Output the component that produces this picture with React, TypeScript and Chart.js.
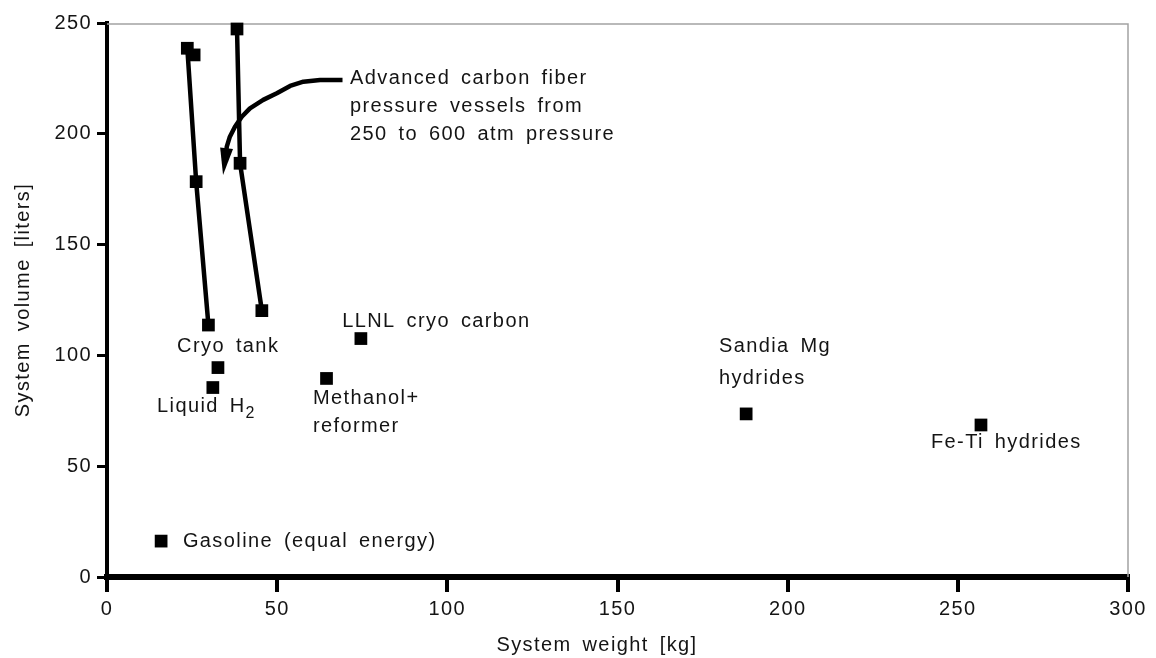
import React, { useEffect, useRef } from "react";
import { Chart, registerables } from "chart.js";

Chart.register(...registerables);

// ---- data ----
const xTicks = [0, 50, 100, 150, 200, 250, 300];
const yTicks = [0, 50, 100, 150, 200, 250];

const cryoTank = [
  { x: 25.6, y: 235.6 },
  { x: 23.6, y: 238.6 },
  { x: 26.2, y: 178.4 },
  { x: 29.8, y: 113.7 },
];
const carbonFiber = [
  { x: 38.2, y: 247.3 },
  { x: 39.1, y: 186.7 },
  { x: 45.5, y: 120.2 },
];
const liquidH2 = [
  { x: 32.6, y: 94.5 },
  { x: 31.1, y: 85.5 },
];
const llnlCryoCarbon = [{ x: 74.6, y: 107.6 }];
const methanolReformer = [{ x: 64.5, y: 89.6 }];
const sandiaMg = [{ x: 187.8, y: 73.6 }];
const feTi = [{ x: 256.8, y: 68.6 }];
const gasoline = [{ x: 15.9, y: 16.2 }];

// annotation arrow path (data coordinates)
const arrowPath = [
  { x: 69.2, y: 224.3 },
  { x: 62.6, y: 224.3 },
  { x: 57.7, y: 223.5 },
  { x: 53.8, y: 221.6 },
  { x: 49.9, y: 218.3 },
  { x: 45.9, y: 215.3 },
  { x: 42.0, y: 211.5 },
  { x: 39.6, y: 207.7 },
  { x: 37.6, y: 203.2 },
  { x: 36.1, y: 198.7 },
  { x: 35.2, y: 194.2 },
];
const arrowTip = { x: 34.1, y: 181.4 };

// text annotations (anchor = left / baseline, data coordinates)
const annotations = [
  { text: "Advanced carbon fiber", x: 71.4, y: 222.5 },
  { text: "pressure vessels from", x: 71.4, y: 209.8 },
  { text: "250 to 600 atm pressure", x: 71.4, y: 197.2 },
  { text: "Cryo tank", x: 20.6, y: 101.5 },
  { text: "LLNL cryo carbon", x: 69.1, y: 112.8 },
  { text: "Methanol+", x: 60.5, y: 78.1 },
  { text: "reformer", x: 60.5, y: 65.4 },
  { text: "Sandia Mg", x: 179.8, y: 101.5 },
  { text: "hydrides", x: 179.8, y: 87.1 },
  { text: "Fe-Ti hydrides", x: 242.1, y: 58.2 },
  { text: "Gasoline (equal energy)", x: 22.3, y: 13.5 },
  { text: "Liquid H", sub: "2", x: 14.7, y: 74.5 },
];

const xTitle = "System weight [kg]";
const yTitle = "System volume [liters]";

const FONT_FAMILY = '"Liberation Sans", Arial, Helvetica, sans-serif';
const TEXT_COLOR = "#141414";

const decorPlugin = {
  id: "decor",
  beforeDraw(chart: any) {
    const ctx = chart.ctx;
    ctx.letterSpacing = "1.4px";
    ctx.wordSpacing = "4px";
  },
  beforeDatasetsDraw(chart: any) {
    const { ctx, chartArea: a } = chart;
    ctx.save();
    ctx.strokeStyle = "#a2a2a2";
    ctx.lineWidth = 1.5;
    ctx.beginPath();
    ctx.moveTo(a.left, a.top + 1);
    ctx.lineTo(a.right, a.top + 1);
    ctx.lineTo(a.right, a.bottom);
    ctx.stroke();
    ctx.restore();
  },
  afterDatasetsDraw(chart: any) {
    const { ctx } = chart;
    const xs = chart.scales.x;
    const ys = chart.scales.y;
    const px = (v: number) => xs.getPixelForValue(v);
    const py = (v: number) => ys.getPixelForValue(v);

    // curved arrow
    ctx.save();
    ctx.strokeStyle = "#000";
    ctx.fillStyle = "#000";
    ctx.lineWidth = 4.5;
    ctx.lineJoin = "round";
    ctx.lineCap = "butt";
    const pts = arrowPath.map((p) => ({ x: px(p.x), y: py(p.y) }));
    const tip = { x: px(arrowTip.x), y: py(arrowTip.y) };
    const last = pts[pts.length - 1];
    const dx = tip.x - last.x;
    const dy = tip.y - last.y;
    const len = Math.hypot(dx, dy);
    const ux = dx / len;
    const uy = dy / len;
    const headLen = 27;
    const headHalf = 6.5;
    const base = { x: tip.x - ux * headLen, y: tip.y - uy * headLen };
    ctx.beginPath();
    ctx.moveTo(pts[0].x, pts[0].y);
    for (let i = 1; i < pts.length; i++) ctx.lineTo(pts[i].x, pts[i].y);
    ctx.lineTo(base.x + ux * 4, base.y + uy * 4);
    ctx.stroke();
    ctx.beginPath();
    ctx.moveTo(tip.x, tip.y);
    ctx.lineTo(base.x - uy * headHalf, base.y + ux * headHalf);
    ctx.lineTo(base.x + uy * headHalf, base.y - ux * headHalf);
    ctx.closePath();
    ctx.fill();
    ctx.restore();

    // text labels
    ctx.save();
    ctx.fillStyle = TEXT_COLOR;
    ctx.textAlign = "left";
    ctx.textBaseline = "alphabetic";
    ctx.letterSpacing = "1.4px";
    ctx.wordSpacing = "4px";
    for (const a of annotations as any[]) {
      ctx.font = `20px ${FONT_FAMILY}`;
      const x = px(a.x);
      const y = py(a.y);
      ctx.fillText(a.text, x, y);
      if (a.sub) {
        const w = ctx.measureText(a.text).width;
        ctx.font = `16px ${FONT_FAMILY}`;
        ctx.fillText(a.sub, x + w, y + 6);
      }
    }
    // x-axis title
    ctx.font = `20px ${FONT_FAMILY}`;
    ctx.textAlign = "center";
    ctx.fillText(xTitle, 597, 651);
    ctx.restore();
  },
};

export default function App() {
  const canvasRef = useRef<HTMLCanvasElement | null>(null);

  useEffect(() => {
    const canvas = canvasRef.current;
    if (!canvas) return;

    const pointDefaults = {
      pointStyle: "rect",
      pointRadius: 9,
      pointHoverRadius: 9,
      pointBackgroundColor: "#000",
      pointBorderWidth: 0,
      backgroundColor: "#000",
      borderColor: "#000",
      clip: false,
    };

    const chart = new Chart(canvas, {
      type: "scatter",
      data: {
        datasets: [
          { label: "Cryo tank", data: cryoTank, showLine: true, borderWidth: 4.5, tension: 0, ...pointDefaults },
          { label: "Advanced carbon fiber pressure vessels", data: carbonFiber, showLine: true, borderWidth: 4.5, tension: 0, ...pointDefaults },
          { label: "Liquid H2", data: liquidH2, ...pointDefaults },
          { label: "LLNL cryo carbon", data: llnlCryoCarbon, ...pointDefaults },
          { label: "Methanol+reformer", data: methanolReformer, ...pointDefaults },
          { label: "Sandia Mg hydrides", data: sandiaMg, ...pointDefaults },
          { label: "Fe-Ti hydrides", data: feTi, ...pointDefaults },
          { label: "Gasoline (equal energy)", data: gasoline, ...pointDefaults },
        ] as any,
      },
      options: {
        animation: false,
        responsive: false,
        maintainAspectRatio: false,
        layout: { padding: { left: 0, right: 28, top: 23, bottom: 0 } },
        plugins: {
          legend: { display: false },
          tooltip: { enabled: false },
        },
        scales: {
          x: {
            type: "linear",
            min: 0,
            max: 300,
            afterBuildTicks: (scale: any) => {
              scale.ticks = xTicks.map((v) => ({ value: v }));
            },
            afterFit: (scale: any) => {
              scale.height = 81;
            },
            grid: {
              display: true,
              drawOnChartArea: false,
              drawTicks: true,
              tickLength: 15,
              tickWidth: 4,
              tickColor: "#000",
              lineWidth: 4,
              color: "#000",
            },
            border: { display: true, color: "#000", width: 6 },
            ticks: {
              color: TEXT_COLOR,
              padding: 5,
              maxRotation: 0,
              font: { family: FONT_FAMILY, size: 20 },
            },
          },
          y: {
            type: "linear",
            min: 0,
            max: 250,
            afterBuildTicks: (scale: any) => {
              scale.ticks = yTicks.map((v) => ({ value: v }));
            },
            afterFit: (scale: any) => {
              scale.width = 107;
            },
            grid: {
              display: true,
              drawOnChartArea: false,
              drawTicks: true,
              tickLength: 10,
              tickWidth: 3,
              tickColor: "#000",
              lineWidth: 3,
              color: "#000",
            },
            border: { display: true, color: "#000", width: 4 },
            ticks: {
              color: TEXT_COLOR,
              padding: 5,
              font: { family: FONT_FAMILY, size: 20 },
            },
            title: {
              display: true,
              text: yTitle,
              color: TEXT_COLOR,
              font: { family: FONT_FAMILY, size: 20 },
              padding: { top: 11, bottom: 0 },
            },
          },
        },
      } as any,
      plugins: [decorPlugin],
    });

    return () => chart.destroy();
  }, []);

  return (
    <div style={{ position: "absolute", left: 0, top: 0, width: 1156, height: 658, background: "#fff" }}>
      <canvas ref={canvasRef} width={1156} height={658} style={{ display: "block", width: 1156, height: 658 }} />
    </div>
  );
}
